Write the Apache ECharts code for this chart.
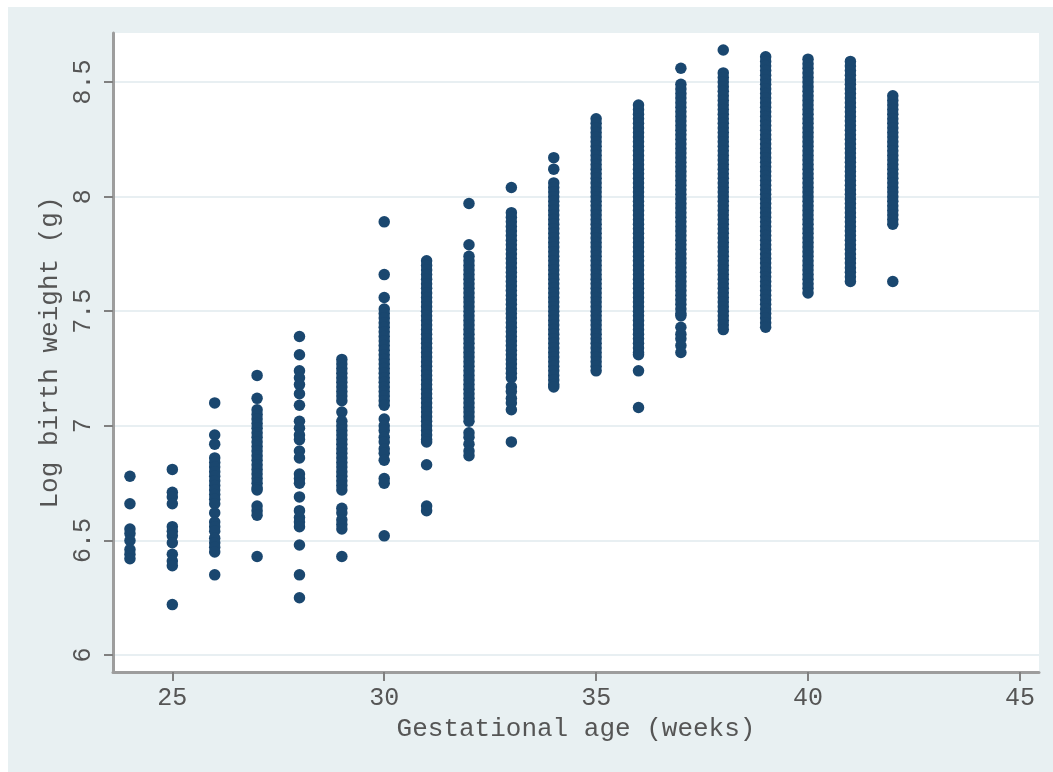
<!DOCTYPE html>
<html>
<head>
<meta charset="utf-8">
<script src="https://cdn.jsdelivr.net/npm/echarts@6/dist/echarts.min.js"></script>
<style>
  html, body { margin: 0; padding: 0; background: #ffffff; }
  #main { position: absolute; left: 8px; top: 7px; width: 1045px; height: 765px; }
</style>
</head>
<body>
<div id="main"></div>
<script>
// log birth weight
var w24 = [6.78, 6.66, 6.55, 6.53, 6.50, 6.46, 6.44, 6.42];
var w25 = [6.81, 6.71, 6.69, 6.66, 6.56, 6.54, 6.52, 6.49, 6.44, 6.41, 6.39, 6.22];
var w26 = [7.10, 6.96, 6.92, 6.86, 6.84, 6.82, 6.80, 6.78, 6.76, 6.74, 6.72, 6.70, 6.68, 6.66, 6.62, 6.58, 6.56, 6.54, 6.51, 6.49, 6.47, 6.45, 6.35];
var w27 = [7.22, 7.12, 7.07, 7.05, 7.03, 7.01, 6.99, 6.97, 6.95, 6.93, 6.91, 6.89, 6.87, 6.85, 6.83, 6.81, 6.79, 6.77, 6.75, 6.73, 6.72, 6.65, 6.63, 6.61, 6.43];
var w28 = [7.39, 7.31, 7.24, 7.21, 7.18, 7.14, 7.09, 7.02, 6.99, 6.96, 6.94, 6.89, 6.86, 6.79, 6.77, 6.75, 6.69, 6.63, 6.60, 6.58, 6.56, 6.48, 6.35, 6.25];
var w29 = [7.29, 7.27, 7.25, 7.23, 7.21, 7.19, 7.17, 7.15, 7.13, 7.11, 7.06, 7.02, 7.00, 6.98, 6.96, 6.94, 6.92, 6.90, 6.88, 6.86, 6.84, 6.82, 6.80, 6.78, 6.76, 6.74, 6.72, 6.64, 6.62, 6.59, 6.57, 6.55, 6.43];
var w30 = [7.89, 7.66, 7.56, 7.51, 7.49, 7.47, 7.45, 7.43, 7.41, 7.39, 7.37, 7.35, 7.33, 7.31, 7.29, 7.27, 7.25, 7.23, 7.21, 7.19, 7.17, 7.15, 7.13, 7.11, 7.09,
  7.03, 7.00, 6.98, 6.95, 6.93, 6.90, 6.88, 6.85, 6.77, 6.75, 6.52];
var w31 = [7.72, 7.70, 7.68, 7.66, 7.64, 7.62, 7.60, 7.58, 7.56, 7.54, 7.52, 7.50, 7.48, 7.46, 7.44, 7.42, 7.40, 7.38, 7.36, 7.34, 7.32, 7.30, 7.28, 7.26, 7.24,
  7.22, 7.20, 7.18, 7.16, 7.14, 7.12, 7.10, 7.08, 7.06, 7.04, 7.02, 7.00, 6.98, 6.96, 6.94, 6.93, 6.83, 6.65, 6.63];
var w32 = [7.97, 7.79, 7.74, 7.72, 7.70, 7.68, 7.66, 7.64, 7.62, 7.60, 7.58, 7.56, 7.54, 7.52, 7.50, 7.48, 7.46, 7.44, 7.42, 7.40, 7.38, 7.36, 7.34, 7.32,
  7.30, 7.28, 7.26, 7.24, 7.22, 7.20, 7.18, 7.16, 7.14, 7.12, 7.10, 7.08, 7.06, 7.04, 7.02, 6.97, 6.95, 6.92, 6.89, 6.87];
var w33 = [8.04, 7.93, 7.91, 7.89, 7.87, 7.85, 7.83, 7.81, 7.79, 7.77, 7.75, 7.73, 7.71, 7.69, 7.67, 7.65, 7.63, 7.61, 7.59, 7.57, 7.55, 7.53, 7.51, 7.49,
  7.47, 7.45, 7.43, 7.41, 7.39, 7.37, 7.35, 7.33, 7.31, 7.29, 7.27, 7.25, 7.23, 7.21, 7.17, 7.15, 7.12, 7.10, 7.07, 6.93];
var w34 = [8.17, 8.12, 8.06, 8.04, 8.02, 8.00, 7.98, 7.96, 7.94, 7.92, 7.90, 7.88, 7.86, 7.84, 7.82, 7.80, 7.78, 7.76, 7.74, 7.72, 7.70, 7.68, 7.66, 7.64,
  7.62, 7.60, 7.58, 7.56, 7.54, 7.52, 7.50, 7.48, 7.46, 7.44, 7.42, 7.40, 7.38, 7.36, 7.34, 7.32, 7.30, 7.28, 7.26, 7.24, 7.22, 7.20, 7.18, 7.17];
var w35 = [8.34, 8.32, 8.30, 8.28, 8.26, 8.24, 8.22, 8.20, 8.18, 8.16, 8.14, 8.12, 8.10, 8.08, 8.06, 8.04, 8.02, 8.00, 7.98, 7.96, 7.94, 7.92, 7.90, 7.88,
  7.86, 7.84, 7.82, 7.80, 7.78, 7.76, 7.74, 7.72, 7.70, 7.68, 7.66, 7.64, 7.62, 7.60, 7.58, 7.56, 7.54, 7.52, 7.50, 7.48, 7.46, 7.44, 7.42, 7.40,
  7.38, 7.36, 7.34, 7.32, 7.30, 7.28, 7.26, 7.24];
var w36 = [8.40, 8.38, 8.36, 8.34, 8.32, 8.30, 8.28, 8.26, 8.24, 8.22, 8.20, 8.18, 8.16, 8.14, 8.12, 8.10, 8.08, 8.06, 8.04, 8.02, 8.00, 7.98, 7.96, 7.94,
  7.92, 7.90, 7.88, 7.86, 7.84, 7.82, 7.80, 7.78, 7.76, 7.74, 7.72, 7.70, 7.68, 7.66, 7.64, 7.62, 7.60, 7.58, 7.56, 7.54, 7.52, 7.50, 7.48, 7.46,
  7.44, 7.42, 7.40, 7.38, 7.36, 7.34, 7.32, 7.31, 7.24, 7.08];
var w37 = [8.56, 8.49, 8.47, 8.45, 8.43, 8.41, 8.39, 8.37, 8.35, 8.33, 8.31, 8.29, 8.27, 8.25, 8.23, 8.21, 8.19, 8.17, 8.15, 8.13, 8.11, 8.09, 8.07, 8.05,
  8.03, 8.01, 7.99, 7.97, 7.95, 7.93, 7.91, 7.89, 7.87, 7.85, 7.83, 7.81, 7.79, 7.77, 7.75, 7.73, 7.71, 7.69, 7.67, 7.65, 7.63, 7.61, 7.59, 7.57,
  7.55, 7.53, 7.51, 7.49, 7.48, 7.43, 7.40, 7.38, 7.35, 7.32];
var w38 = [8.64, 8.54, 8.52, 8.50, 8.48, 8.46, 8.44, 8.42, 8.40, 8.38, 8.36, 8.34, 8.32, 8.30, 8.28, 8.26, 8.24, 8.22, 8.20, 8.18, 8.16, 8.14, 8.12, 8.10,
  8.08, 8.06, 8.04, 8.02, 8.00, 7.98, 7.96, 7.94, 7.92, 7.90, 7.88, 7.86, 7.84, 7.82, 7.80, 7.78, 7.76, 7.74, 7.72, 7.70, 7.68, 7.66, 7.64, 7.62,
  7.60, 7.58, 7.56, 7.54, 7.52, 7.50, 7.48, 7.46, 7.44, 7.42];
var w39 = [8.61, 8.59, 8.57, 8.55, 8.53, 8.51, 8.49, 8.47, 8.45, 8.43, 8.41, 8.39, 8.37, 8.35, 8.33, 8.31, 8.29, 8.27, 8.25, 8.23, 8.21, 8.19, 8.17, 8.15,
  8.13, 8.11, 8.09, 8.07, 8.05, 8.03, 8.01, 7.99, 7.97, 7.95, 7.93, 7.91, 7.89, 7.87, 7.85, 7.83, 7.81, 7.79, 7.77, 7.75, 7.73, 7.71, 7.69, 7.67,
  7.65, 7.63, 7.61, 7.59, 7.57, 7.55, 7.53, 7.51, 7.49, 7.47, 7.45, 7.43];
var w40 = [8.60, 8.58, 8.56, 8.54, 8.52, 8.50, 8.48, 8.46, 8.44, 8.42, 8.40, 8.38, 8.36, 8.34, 8.32, 8.30, 8.28, 8.26, 8.24, 8.22, 8.20, 8.18, 8.16, 8.14,
  8.12, 8.10, 8.08, 8.06, 8.04, 8.02, 8.00, 7.98, 7.96, 7.94, 7.92, 7.90, 7.88, 7.86, 7.84, 7.82, 7.80, 7.78, 7.76, 7.74, 7.72, 7.70, 7.68, 7.66,
  7.64, 7.62, 7.60, 7.58];
var w41 = [8.59, 8.57, 8.55, 8.53, 8.51, 8.49, 8.47, 8.45, 8.43, 8.41, 8.39, 8.37, 8.35, 8.33, 8.31, 8.29, 8.27, 8.25, 8.23, 8.21, 8.19, 8.17, 8.15, 8.13,
  8.11, 8.09, 8.07, 8.05, 8.03, 8.01, 7.99, 7.97, 7.95, 7.93, 7.91, 7.89, 7.87, 7.85, 7.83, 7.81, 7.79, 7.77, 7.75, 7.73, 7.71, 7.69, 7.67, 7.65, 7.63];
var w42 = [8.44, 8.42, 8.40, 8.38, 8.36, 8.34, 8.32, 8.30, 8.28, 8.26, 8.24, 8.22, 8.20, 8.18, 8.16, 8.14, 8.12, 8.10, 8.08, 8.06, 8.04, 8.02, 8.00, 7.98,
  7.96, 7.94, 7.92, 7.90, 7.88, 7.63];

var weeks = [24, 25, 26, 27, 28, 29, 30, 31, 32, 33, 34, 35, 36, 37, 38, 39, 40, 41, 42];
var columns = [w24, w25, w26, w27, w28, w29, w30, w31, w32, w33, w34, w35, w36, w37, w38, w39, w40, w41, w42];

var xTicks = [25, 30, 35, 40, 45];
var yTicks = [6, 6.5, 7, 7.5, 8, 8.5];

var points = [];
weeks.forEach(function (w, i) {
  columns[i].forEach(function (v) {
    points.push([w, v]);
  });
});

var myChart = echarts.init(document.getElementById('main'));
var font = '"Liberation Mono", "DejaVu Sans Mono", monospace';

var option = {
  animation: false,
  backgroundColor: '#e8f0f2',
  grid: {
    left: 105,
    top: 26,
    width: 926,
    height: 639,
    show: true,
    backgroundColor: '#ffffff',
    borderWidth: 0
  },
  xAxis: {
    type: 'value',
    min: 23.6,
    max: 45.45,
    name: 'Gestational age (weeks)',
    nameLocation: 'middle',
    nameGap: 42,
    nameTextStyle: { fontFamily: font, fontSize: 26, color: '#555' },
    axisLine: { show: true, lineStyle: { color: '#9d9d9d', width: 3 } },
    axisTick: { show: true, length: 9, customValues: xTicks, lineStyle: { color: '#808080', width: 2 } },
    axisLabel: { customValues: xTicks, margin: 14, fontFamily: font, fontSize: 25, color: '#555' },
    splitLine: { show: false }
  },
  yAxis: {
    type: 'value',
    min: 5.926,
    max: 8.714,
    name: 'Log birth weight (g)',
    nameLocation: 'middle',
    nameRotate: 90,
    nameGap: 34,
    nameTextStyle: { fontFamily: font, fontSize: 26, color: '#555' },
    axisLine: { show: true, lineStyle: { color: '#9d9d9d', width: 3 } },
    axisTick: { show: true, length: 9, customValues: yTicks, lineStyle: { color: '#808080', width: 2 } },
    axisLabel: { customValues: yTicks, rotate: 90, margin: 17, fontFamily: font, fontSize: 25, color: '#555' },
    splitLine: { show: true, lineStyle: { color: '#e8eff2', width: 2 } }
  },
  series: [
    {
      type: 'scatter',
      symbol: 'circle',
      symbolSize: 11.5,
      itemStyle: { color: '#1a476f', opacity: 1 },
      data: points
    }
  ]
};

option && myChart.setOption(option);
</script>
</body>
</html>
